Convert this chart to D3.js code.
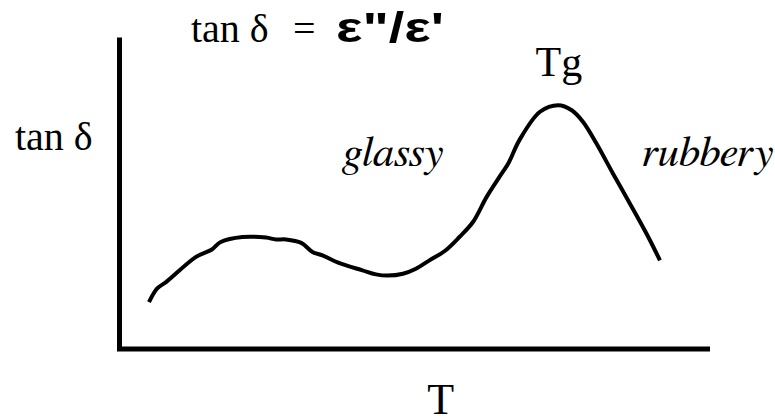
<!DOCTYPE html>
<html>
<head>
<meta charset="utf-8">
<script src="https://cdn.jsdelivr.net/npm/d3@7"></script>
<style>
  body { margin: 0; background: #fff; }
  svg { display: block; }
  .serif { font-family: "Liberation Serif", "Times New Roman", serif; fill: #000; }
  .italic { font-family: FreeSerif, "Liberation Serif", serif; font-style: italic; fill: #000; }
  .sans { font-family: "Liberation Sans", Arial, sans-serif; font-weight: bold; fill: #000; }
</style>
</head>
<body>
<svg width="775" height="419"></svg>
<script>
// DATA (arbitrary units, 0-100 on both axes)

var temperature = [5.1, 6.5, 8.0, 13.1, 15.8, 17.3, 21.0, 25.0, 26.7, 28.4,
                   31.0, 32.9, 34.6, 37.5, 41.4, 43.7, 45.7, 48.3, 50.5, 52.8,
                   55.4, 57.9, 60.2, 62.5, 64.7, 66.2, 68.1, 71.6, 74.7, 77.0,
                   78.9, 81.2, 84.0, 86.9, 89.7, 92.0];

var tanDelta = [14.9, 19.3, 21.3, 29.4, 31.8, 34.2, 35.8, 35.6, 35.0, 35.0,
                33.9, 31.0, 29.9, 27.4, 25.1, 23.8, 23.4, 24.0, 25.6, 28.3,
                31.3, 35.8, 40.6, 48.6, 55.1, 59.4, 66.9, 76.0, 78.1, 76.5,
                72.8, 65.8, 56.2, 46.5, 36.9, 28.3];

// region labels: [text, left x, baseline y] in data units
var regionLabels = [["glassy", 38.1, 58.5], ["rubbery", 89.0, 58.5]];
var peakLabel = ["Tg", 74.8, 87.5];


// VIEW

var svg = d3.select("svg"),
    width = +svg.attr("width"),
    height = +svg.attr("height");

var x = d3.scaleLinear().domain([0, 100]).range([119, 707]),
    y = d3.scaleLinear().domain([0, 100]).range([348.5, 37]);

// Axes: bare lines, no ticks
svg.append("g")
    .attr("transform", "translate(0," + y(0) + ")")
    .call(d3.axisBottom(x).ticks(0).tickSizeOuter(0))
    .call(function(g) { g.select(".domain").attr("stroke-width", 5).attr("stroke-linecap", "square"); });

svg.append("g")
    .attr("transform", "translate(" + x(0) + ",0)")
    .call(d3.axisLeft(y).ticks(0).tickSizeOuter(0))
    .call(function(g) { g.select(".domain").attr("stroke-width", 5); });

// The loss curve
var points = temperature.map(function(t, i) { return [t, tanDelta[i]]; });

var line = d3.line()
    .x(function(d) { return x(d[0]); })
    .y(function(d) { return y(d[1]); })
    .curve(d3.curveCatmullRom.alpha(0.5));

svg.append("path")
    .datum(points)
    .attr("fill", "none")
    .attr("stroke", "#000")
    .attr("stroke-width", 4)
    .attr("stroke-linejoin", "round")
    .attr("d", line);

// Axis labels
svg.append("text")
    .attr("class", "serif")
    .attr("x", 15)
    .attr("y", 150)
    .attr("font-size", "40px")
    .text("tan δ");

svg.append("text")
    .attr("class", "serif")
    .attr("x", x(54.7))
    .attr("y", 414)
    .attr("text-anchor", "middle")
    .attr("font-size", "44px")
    .text("T");

// Title formula
var title = svg.append("text")
    .attr("y", 42)
    .attr("font-size", "40px");
title.append("tspan").attr("class", "serif").attr("x", 191).text("tan δ");
title.append("tspan").attr("class", "serif").attr("x", 293).text("=");
title.append("tspan").attr("class", "sans").attr("x", 336)
    .attr("font-size", "42px")
    .attr("textLength", 108)
    .attr("lengthAdjust", "spacingAndGlyphs")
    .text("ε\"/ε'");

// Region labels
svg.selectAll(".region")
    .data(regionLabels)
  .enter().append("text")
    .attr("class", "italic region")
    .attr("x", function(d) { return x(d[1]); })
    .attr("y", function(d) { return y(d[2]); })
    .attr("font-size", "43px")
    .text(function(d) { return d[0]; });

svg.append("text")
    .attr("class", "serif")
    .attr("x", x(peakLabel[1]))
    .attr("y", y(peakLabel[2]))
    .attr("text-anchor", "middle")
    .attr("font-size", "42px")
    .text(peakLabel[0]);
</script>
</body>
</html>
